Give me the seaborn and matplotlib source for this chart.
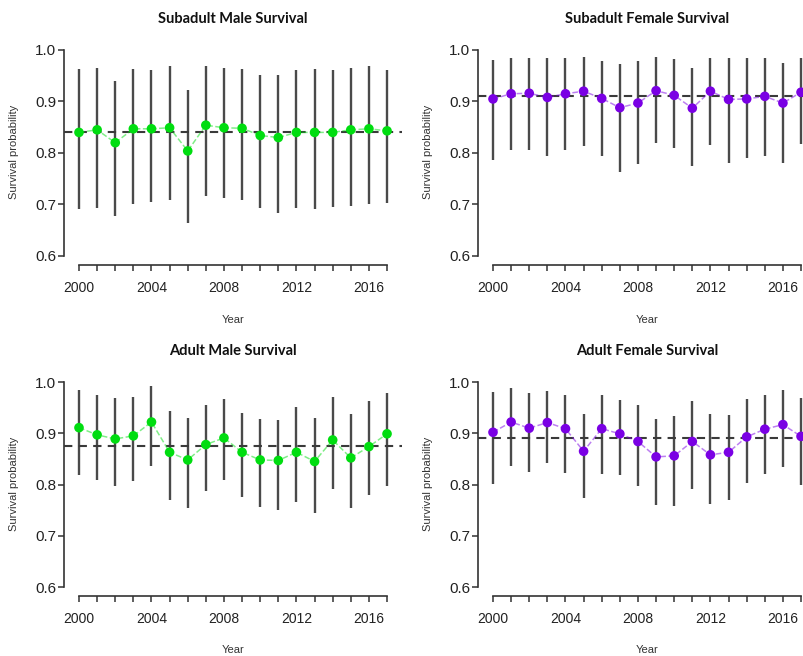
import numpy as np
import pandas as pd
import seaborn as sns
import matplotlib.pyplot as plt

years = list(range(2000, 2018))

# Subadult male
sm_est = [0.840, 0.845, 0.820, 0.847, 0.847, 0.849, 0.804, 0.854, 0.849, 0.848,
          0.834, 0.830, 0.840, 0.840, 0.840, 0.845, 0.847, 0.843]
sm_lo = [0.691, 0.693, 0.678, 0.700, 0.704, 0.709, 0.664, 0.717, 0.713, 0.709,
         0.694, 0.684, 0.693, 0.691, 0.696, 0.698, 0.700, 0.702]
sm_hi = [0.963, 0.966, 0.939, 0.964, 0.962, 0.969, 0.922, 0.969, 0.966, 0.964,
         0.951, 0.951, 0.962, 0.964, 0.962, 0.966, 0.968, 0.961]
sm_mean = 0.841

# Subadult female
sf_est = [0.905, 0.915, 0.916, 0.908, 0.915, 0.920, 0.906, 0.888, 0.897, 0.921,
          0.912, 0.887, 0.920, 0.904, 0.905, 0.910, 0.897, 0.918]
sf_lo = [0.786, 0.805, 0.805, 0.794, 0.805, 0.814, 0.795, 0.763, 0.779, 0.820,
         0.810, 0.775, 0.816, 0.781, 0.790, 0.795, 0.781, 0.817]
sf_hi = [0.981, 0.985, 0.985, 0.985, 0.985, 0.986, 0.979, 0.973, 0.979, 0.987,
         0.982, 0.966, 0.985, 0.985, 0.985, 0.985, 0.974, 0.985]
sf_mean = 0.910

# Adult male
am_est = [0.911, 0.897, 0.889, 0.895, 0.922, 0.863, 0.848, 0.878, 0.891, 0.863,
          0.848, 0.847, 0.863, 0.845, 0.887, 0.852, 0.874, 0.899]
am_lo = [0.819, 0.808, 0.797, 0.806, 0.837, 0.770, 0.754, 0.787, 0.809, 0.776,
         0.757, 0.750, 0.765, 0.744, 0.792, 0.754, 0.780, 0.798]
am_hi = [0.984, 0.974, 0.969, 0.971, 0.992, 0.943, 0.930, 0.955, 0.966, 0.940,
         0.928, 0.926, 0.951, 0.930, 0.971, 0.937, 0.963, 0.979]
am_mean = 0.876

# Adult female
af_est = [0.902, 0.922, 0.910, 0.921, 0.909, 0.865, 0.909, 0.899, 0.884, 0.854,
          0.856, 0.884, 0.858, 0.863, 0.893, 0.908, 0.917, 0.894]
af_lo = [0.802, 0.837, 0.824, 0.842, 0.823, 0.774, 0.821, 0.818, 0.798, 0.761,
         0.759, 0.792, 0.763, 0.770, 0.803, 0.821, 0.834, 0.800]
af_hi = [0.980, 0.989, 0.978, 0.982, 0.975, 0.938, 0.975, 0.964, 0.956, 0.927,
         0.934, 0.963, 0.938, 0.936, 0.966, 0.974, 0.984, 0.969]
af_mean = 0.891

titles = ["Subadult Male Survival", "Subadult Female Survival",
          "Adult Male Survival", "Adult Female Survival"]
green = "#00DD10"
purple = "#7A00E4"

sns.set_style("ticks")
plt.rcParams['font.family'] = ['Liberation Sans', 'DejaVu Sans']

W, H = 804, 656
fig = plt.figure(figsize=(W / 100, H / 100), dpi=100)

px_per_year = 18.12
xlim = (1999.2, 2017.8)
ax_w = (xlim[1] - xlim[0]) * px_per_year

# (left px of y-axis, top px, bottom px) of each plot region
boxes = [(64.5, 39.7, 265), (478.5, 39.7, 265),
         (64.5, 371.8, 596), (478.5, 371.8, 596)]
panels = [(sm_est, sm_lo, sm_hi, sm_mean, green),
          (sf_est, sf_lo, sf_hi, sf_mean, purple),
          (am_est, am_lo, am_hi, am_mean, green),
          (af_est, af_lo, af_hi, af_mean, purple)]

for (left, top, bottom), (est, lo, hi, mean, col), title in zip(boxes, panels, titles):
    ax = fig.add_axes([left / W, 1 - bottom / H, ax_w / W, (bottom - top) / H])
    df = pd.DataFrame({"year": years, "est": est, "lo": lo, "hi": hi})

    ax.vlines(df["year"], df["lo"], df["hi"], color="#4a4a4a", lw=1.7, zorder=2)
    ax.axhline(mean, color="#3a3a3a", lw=1.5, ls=(0, (4, 3)), zorder=3)
    sns.lineplot(data=df, x="year", y="est", ax=ax, color=col, lw=1.1,
                 linestyle="--", alpha=0.5, zorder=4)
    sns.scatterplot(data=df, x="year", y="est", ax=ax, color=col, s=48,
                    edgecolor="none", zorder=5)

    ax.set_xlim(*xlim)
    ax.set_ylim(0.5825, 1.02)
    sns.despine(ax=ax)
    ax.spines["left"].set_bounds(0.6, 1.0)
    ax.spines["bottom"].set_bounds(2000, 2017)
    for s in ("left", "bottom"):
        ax.spines[s].set_color("#333333")
        ax.spines[s].set_linewidth(1.2)

    ax.set_xticks(years)
    ax.set_xticklabels([str(y) if (y - 2000) % 4 == 0 else "" for y in years])
    ax.set_yticks([0.6, 0.7, 0.8, 0.9, 1.0])
    ax.set_yticklabels(["0.6", "0.7", "0.8", "0.9", "1.0"])
    ax.tick_params(axis="x", length=4.5, width=1.1, pad=7, labelsize=10,
                   color="#333333", labelcolor="#222222")
    ax.tick_params(axis="y", length=4.5, width=1.1, pad=1.5, labelsize=11,
                   color="#333333", labelcolor="#222222")

    ax.set_xlabel("Year", fontsize=8, color="#333333")
    ax.set_ylabel("Survival probability", fontsize=8, color="#333333")
    ax.xaxis.set_label_coords(0.5, -0.22)
    ax.yaxis.set_label_coords(-0.135, 0.5)
    ax.set_title(title, fontsize=10.5, fontweight="bold", family=["Lato", "DejaVu Sans"],
                 color="#111111", pad=12)
    ax.grid(False)

fig.savefig("out.png", dpi=100, facecolor="white")
